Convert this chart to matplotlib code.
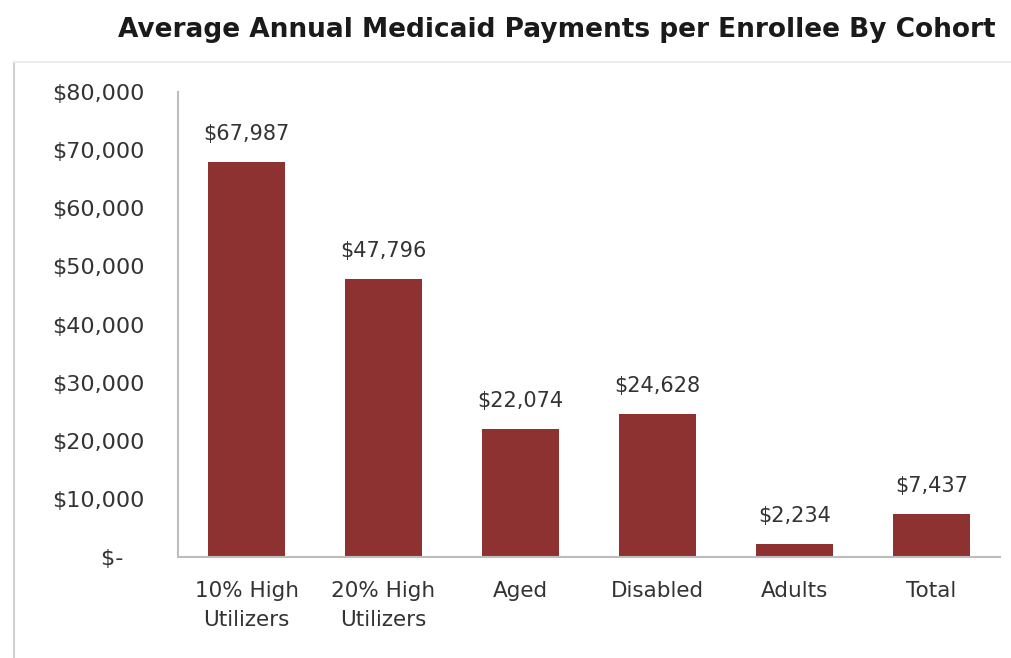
import matplotlib.pyplot as plt
from matplotlib.lines import Line2D
from matplotlib.ticker import FuncFormatter

cohorts = ["10% High\nUtilizers", "20% High\nUtilizers", "Aged", "Disabled", "Adults", "Total"]
payments = [67987, 47796, 22074, 24628, 2234, 7437]
y_ticks = [0, 10000, 20000, 30000, 40000, 50000, 60000, 70000, 80000]

bar_color = "#8e3131"
text_color = "#333333"
spine_color = "#bdbdbd"

plt.rcParams['font.family'] = ['DejaVu Sans']

fig = plt.figure(figsize=(10.12, 6.58), dpi=100)
ax = fig.add_axes([0.176, 0.1535, 0.812, 0.7065])

# outer frame lines (left and top)
fig.add_artist(Line2D([0.014, 0.014], [0.0, 0.906], transform=fig.transFigure,
                      color="#cfcfcf", lw=1.5))
fig.add_artist(Line2D([0.014, 1.0], [0.906, 0.906], transform=fig.transFigure,
                      color="#ececec", lw=1.5))

x = list(range(len(cohorts)))
bars = ax.bar(x, payments, width=0.56, color=bar_color)

for xi, val in zip(x, payments):
    ax.annotate(f"${val:,}", (xi, val), xytext=(0, 13), textcoords="offset points",
                ha="center", va="bottom", fontsize=15, color=text_color)

ax.set_xlim(-0.5, len(cohorts) - 0.5)
ax.set_ylim(0, 80000)
ax.set_yticks(y_ticks)
ax.yaxis.set_major_formatter(FuncFormatter(lambda v, p: "$-   " if v == 0 else f"${v:,.0f}"))
ax.set_xticks(x)
ax.set_xticklabels(cohorts, linespacing=1.6)

ax.tick_params(axis="y", length=0, pad=24, labelsize=16, labelcolor=text_color)
ax.tick_params(axis="x", length=0, pad=17, labelsize=15.5, labelcolor=text_color)

for side in ["top", "right"]:
    ax.spines[side].set_visible(False)
for side in ["left", "bottom"]:
    ax.spines[side].set_color(spine_color)
    ax.spines[side].set_linewidth(1.5)

fig.text(0.55, 0.955, "Average Annual Medicaid Payments per Enrollee By Cohort",
         ha="center", va="center", fontsize=19, fontweight="bold", color="#1a1a1a")

fig.savefig("out.png", dpi=100)
